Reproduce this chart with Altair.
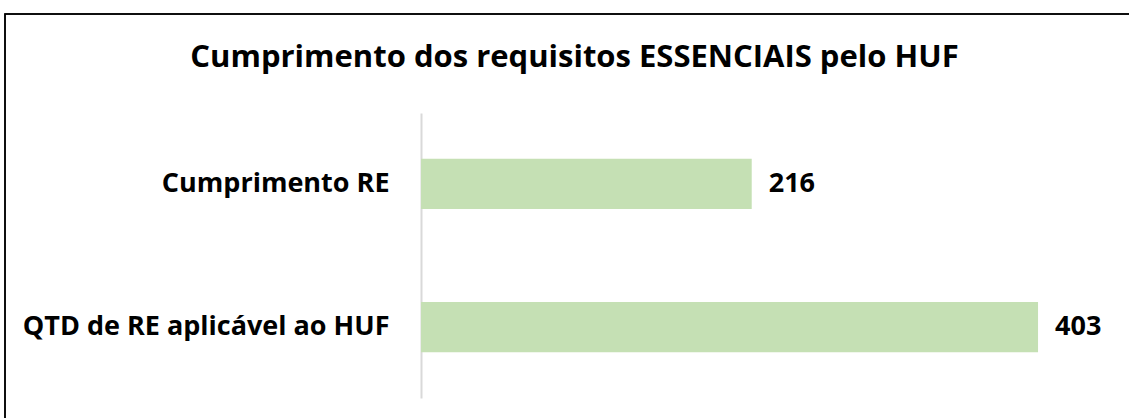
import altair as alt
import pandas as pd

categories = ["Cumprimento RE", "QTD de RE aplicável ao HUF"]
values = [216, 403]
title_text = "Cumprimento dos requisitos ESSENCIAIS pelo HUF"

df = pd.DataFrame({"cat": categories, "val": values})

FONT = "Open Sans"

y_enc = alt.Y("cat:N", sort=categories, title=None,
              scale=alt.Scale(paddingInner=0.65, paddingOuter=0.32),
              axis=alt.Axis(domain=True, domainColor="#d9d9d9", domainWidth=2,
                            ticks=False, labelFont=FONT, labelFontSize=27,
                            labelFontWeight="bold", labelColor="#000000",
                            labelPadding=32, labelLimit=420))
x_enc = alt.X("val:Q", title=None, scale=alt.Scale(domain=[0, 450], nice=False),
              axis=None)

bars = alt.Chart(df).mark_bar(color="#c5e0b4").encode(x=x_enc, y=y_enc)
labels = alt.Chart(df).mark_text(align="left", baseline="middle", dx=17,
                                 font=FONT, fontSize=27, fontWeight="bold",
                                 color="#000000").encode(
    x=x_enc, y=y_enc, text="val:Q")

frame = alt.Chart(df).mark_rect(fill=None, stroke="#000000", strokeWidth=1.5).encode(
    x=alt.value(5 - 421), x2=alt.value(1160 - 421),
    y=alt.value(14 - 113), y2=alt.value(440 - 113))

chart = alt.layer(frame, bars, labels).properties(
    width=689, height=285,
    title=alt.TitleParams(title_text, font=FONT, fontSize=31, fontWeight="bold",
                          color="#000000", anchor="middle", dx=-191, dy=99,
                          offset=38, frame="group"),
    autosize=alt.AutoSizeParams(type="none"),
    padding={"left": 421, "top": 113, "right": 19, "bottom": 20},
).configure(background="#ffffff").configure_view(strokeWidth=0, stroke="transparent")

chart.save("out.html", embed_options={"renderer": "svg", "actions": False})
